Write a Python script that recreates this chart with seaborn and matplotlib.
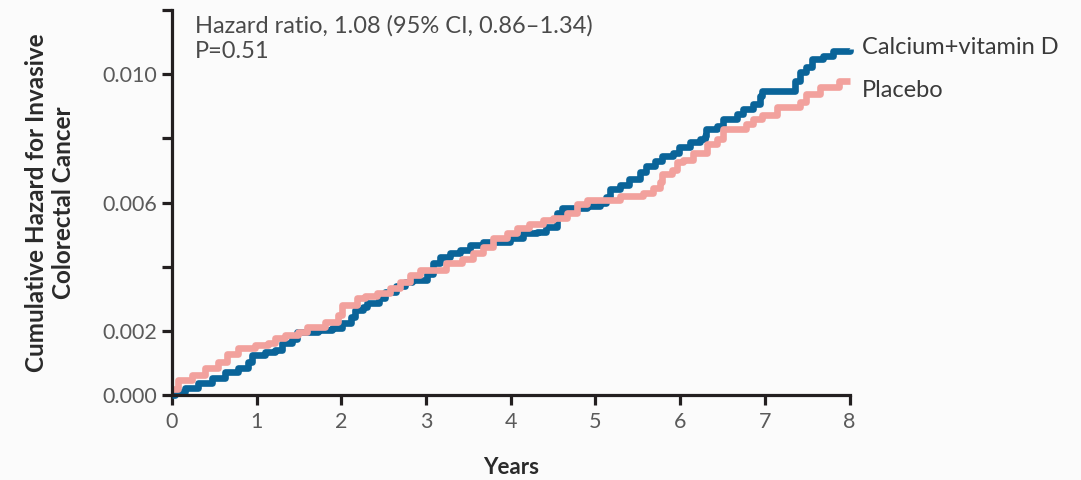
import matplotlib
matplotlib.use("Agg")
import matplotlib.pyplot as plt
import seaborn as sns
import pandas as pd
import numpy as np

# Data (years, cumulative hazard)
calcium_x = [0.00, 0.04, 0.15, 0.31, 0.47, 0.63, 0.78, 0.90, 0.94, 1.10, 1.22, 1.30, 1.42, 1.48, 1.72, 1.89,
             2.01, 2.12, 2.16, 2.25, 2.30, 2.45, 2.52, 2.65, 2.75, 2.84, 3.01, 3.08, 3.16, 3.28, 3.40, 3.52, 3.67, 3.99,
             4.14, 4.31, 4.42, 4.54, 4.61, 4.90, 5.05, 5.12, 5.17, 5.29, 5.40, 5.52, 5.60, 5.70, 5.79, 5.91, 5.99,
             6.11, 6.23, 6.29, 6.31, 6.43, 6.50, 6.67, 6.74, 6.86, 6.94, 6.97, 7.35, 7.41, 7.49, 7.55,
             7.68, 7.80, 8.00]
calcium_y = [0.00000, 0.00009, 0.00022, 0.00038, 0.00053, 0.00072, 0.00084, 0.00103, 0.00125, 0.00134,
             0.00141, 0.00163, 0.00175, 0.00198, 0.00203, 0.00209, 0.00225, 0.00244, 0.00266, 0.00275, 0.00288,
             0.00303, 0.00322, 0.00340, 0.00352, 0.00359, 0.00378, 0.00413, 0.00431, 0.00444, 0.00453, 0.00469, 0.00478, 0.00491,
             0.00506, 0.00509, 0.00525, 0.00569, 0.00584, 0.00590, 0.00600, 0.00618, 0.00641, 0.00656, 0.00672, 0.00694,
             0.00713, 0.00728, 0.00744, 0.00753, 0.00772, 0.00788, 0.00797, 0.00806, 0.00828, 0.00838,
             0.00859, 0.00875, 0.00891, 0.00906, 0.00931, 0.00947, 0.00978, 0.01006, 0.01022, 0.01047,
             0.01056, 0.01072, 0.01078]

placebo_x = [0.00, 0.07, 0.24, 0.39, 0.54, 0.65, 0.78, 0.98, 1.13, 1.22, 1.33, 1.49, 1.60, 1.81, 1.96,
             2.01, 2.19, 2.28, 2.42, 2.57, 2.69, 2.81, 2.93, 3.24, 3.43, 3.55, 3.67, 3.79, 3.95, 4.07,
             4.22, 4.38, 4.50, 4.66, 4.78, 4.90, 5.29, 5.56, 5.68, 5.76, 5.79, 5.90, 5.96, 6.03, 6.15,
             6.32, 6.43, 6.50, 6.78, 6.86, 6.97, 7.14, 7.41, 7.49, 7.65, 7.88, 8.00]
placebo_y = [0.00020, 0.00047, 0.00063, 0.00084, 0.00103, 0.00128, 0.00147, 0.00156, 0.00163, 0.00178,
             0.00188, 0.00197, 0.00213, 0.00228, 0.00250, 0.00281, 0.00303, 0.00309, 0.00319, 0.00334,
             0.00353, 0.00375, 0.00391, 0.00413, 0.00425, 0.00444, 0.00463, 0.00491, 0.00506, 0.00522,
             0.00534, 0.00547, 0.00553, 0.00569, 0.00594, 0.00609, 0.00619, 0.00631, 0.00644, 0.00663,
             0.00688, 0.00703, 0.00725, 0.00734, 0.00756, 0.00781, 0.00797, 0.00828, 0.00844, 0.00859,
             0.00872, 0.00897, 0.00913, 0.00938, 0.00959, 0.00978, 0.00978]

series_names = ["Calcium+vitamin D", "Placebo"]
x_ticks = [0, 1, 2, 3, 4, 5, 6, 7, 8]
y_ticks = [0.000, 0.002, 0.004, 0.006, 0.008, 0.010, 0.012]
y_ticklabels = ["0.000", "0.002", "", "0.006", "", "0.010", ""]
annotation = "Hazard ratio, 1.08 (95% CI, 0.86\u20131.34)\nP=0.51"
ylabel = "Cumulative Hazard for Invasive\nColorectal Cancer"
xlabel = "Years"

sns.set_style("white")
plt.rcParams['font.family'] = ['Lato', 'DejaVu Sans']

BG = "#fbfbfb"
fig = plt.figure(figsize=(10.81, 4.80), dpi=100, facecolor=BG)
ax = fig.add_axes([0.159, 0.177, 0.627, 0.802], facecolor=BG)

df = pd.concat([
    pd.DataFrame({"Years": calcium_x, "H": calcium_y, "Group": series_names[0]}),
    pd.DataFrame({"Years": placebo_x, "H": placebo_y, "Group": series_names[1]}),
])
palette = {series_names[0]: "#0a6499", series_names[1]: "#f2a19d"}
sns.lineplot(data=df, x="Years", y="H", hue="Group", palette=palette, estimator=None,
             sort=False, drawstyle="steps-post", linewidth=4.8, legend=False, ax=ax,
             hue_order=[series_names[0], series_names[1]])
for ln in ax.get_lines():
    ln.set_clip_on(False)
    ln.set_solid_capstyle("butt")

ax.set_xlim(0, 8)
ax.set_ylim(0, 0.012)
ax.set_xticks(x_ticks)
ax.set_xticklabels([str(t) for t in x_ticks])
ax.set_yticks(y_ticks)
ax.set_yticklabels(y_ticklabels)

for side in ["top", "right"]:
    ax.spines[side].set_visible(False)
for side in ["left", "bottom"]:
    ax.spines[side].set_color("#231f20")
    ax.spines[side].set_linewidth(2.3)
ax.tick_params(axis="both", direction="out", length=7.5, width=2.3, color="#231f20",
               labelsize=15.5, labelcolor="#5a5a5a", left=True, bottom=True)
ax.tick_params(axis="x", pad=5)
ax.tick_params(axis="y", pad=3)

ax.set_xlabel(xlabel, fontsize=16, color="#2a2a2a", fontweight="bold", labelpad=18)
ax.set_ylabel(ylabel, fontsize=17.5, color="#2a2a2a", fontweight="bold", labelpad=20,
              linespacing=1.2)

ax.text(0.034, 0.988, annotation, transform=ax.transAxes, fontsize=17, color="#4a4a4a",
        va="top", ha="left", linespacing=1.3)

ax.text(8.15, 0.01084, series_names[0], fontsize=17, color="#3a3a3a",
        va="center", ha="left", clip_on=False)
ax.text(8.15, 0.00950, series_names[1], fontsize=17, color="#3a3a3a",
        va="center", ha="left", clip_on=False)

fig.savefig("out.png", dpi=100, facecolor=BG)
